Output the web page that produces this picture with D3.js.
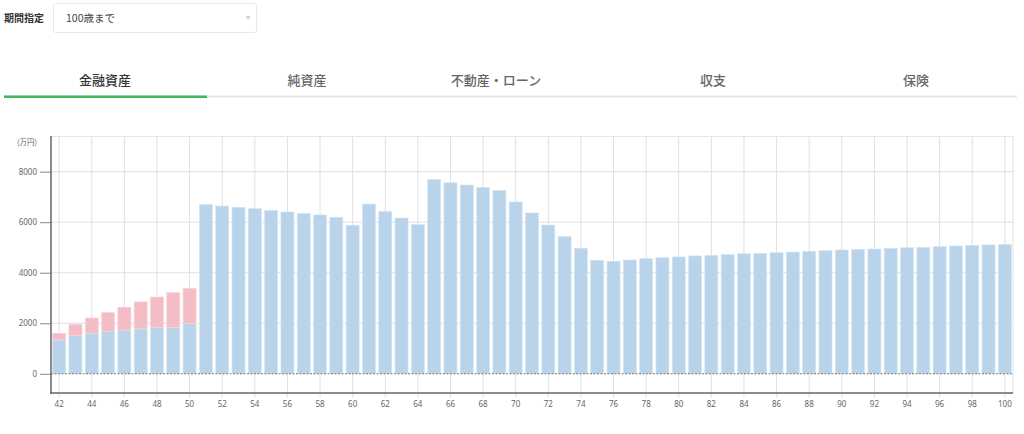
<!DOCTYPE html>
<html>
<head>
<meta charset="utf-8">
<script src="https://cdn.jsdelivr.net/npm/d3@7"></script>
<style>
  body { margin: 0; background: #fff; font-family: "Noto Sans CJK JP", "Noto Sans", sans-serif; }
  svg { display: block; }
</style>
</head>
<body>
<div id="chart"></div>
<script>
// ages on the x axis
const ages = d3.range(42, 101);

// blue series (financial assets, 万円)
const baseValues = [
  1340, 1510, 1610, 1690, 1730, 1780, 1830, 1835, 2000,
  6705, 6640, 6590, 6535, 6470, 6405, 6350, 6285, 6195, 5880,
  6720, 6430, 6165, 5905, 7690, 7560, 7470, 7380, 7260, 6800,
  6365, 5890, 5435, 4970, 4495, 4455, 4505, 4560, 4600, 4625,
  4665, 4690, 4720, 4755, 4770, 4795, 4820, 4850, 4875, 4900,
  4925, 4940, 4965, 4990, 5005, 5030, 5060, 5085, 5100, 5125
];

// pink series stacked on top (only early years)
const extraValues = [
  265, 450, 600, 735, 905, 1065, 1210, 1380, 1385
].concat(d3.range(50).map(() => 0));

const yTicks = [0, 2000, 4000, 6000, 8000];
const tabs = ["金融資産", "純資産", "不動産・ローン", "収支", "保険"];
const tabCenters = [105, 307, 496, 713, 916];

const W = 1024, H = 434;
const svg = d3.select("#chart").append("svg")
  .attr("width", W)
  .attr("height", H);

/* period selector */
svg.append("text")
  .attr("x", 4).attr("y", 22)
  .attr("font-size", 10)
  .attr("font-weight", "bold")
  .attr("fill", "#333")
  .text("期間指定");

svg.append("rect")
  .attr("x", 53.5).attr("y", 3.5)
  .attr("width", 203).attr("height", 29)
  .attr("rx", 2)
  .attr("fill", "#fff")
  .attr("stroke", "#e8e8e8");

svg.append("text")
  .attr("x", 66).attr("y", 22)
  .attr("font-size", 10.5)
  .attr("fill", "#444")
  .text("100歳まで");

svg.append("text")
  .attr("x", 248).attr("y", 19)
  .attr("font-size", 5)
  .attr("text-anchor", "middle")
  .attr("fill", "#d0d0d0")
  .text("▼");

/* tabs */
svg.selectAll(".tab")
  .data(tabs)
  .join("text")
  .attr("class", "tab")
  .attr("x", (d, i) => tabCenters[i])
  .attr("y", 85)
  .attr("text-anchor", "middle")
  .attr("font-size", 13)
  .attr("font-weight", 500)
  .attr("fill", (d, i) => i === 0 ? "#333" : "#666")
  .text(d => d);

svg.append("rect")
  .attr("x", 4).attr("y", 95.5)
  .attr("width", 1013).attr("height", 2)
  .attr("fill", "#e8e8e8");

svg.append("rect")
  .attr("x", 4).attr("y", 95.5)
  .attr("width", 203).attr("height", 2.5)
  .attr("fill", "#3dba5c");

/* chart scales */
const plot = {left: 51, right: 1013, top: 136, bottom: 393};

const xScale = d3.scaleBand()
  .domain(ages)
  .range([plot.left, plot.right])
  .paddingInner(0.2)
  .paddingOuter(0.1);

const yScale = d3.scaleLinear()
  .domain([-760, 9410])
  .range([plot.bottom, plot.top]);

const xc = a => xScale(a) + xScale.bandwidth() / 2;
const evenAges = ages.filter(a => a % 2 === 0);

/* gridlines */
const grid = svg.append("g");

grid.selectAll(".vgrid")
  .data(evenAges)
  .join("line")
  .attr("x1", d => xc(d)).attr("x2", d => xc(d))
  .attr("y1", plot.top).attr("y2", plot.bottom + 4)
  .attr("stroke", "#e0e0e0");

grid.selectAll(".hgrid")
  .data(yTicks.filter(d => d > 0))
  .join("line")
  .attr("x1", plot.left).attr("x2", plot.right)
  .attr("y1", d => yScale(d)).attr("y2", d => yScale(d))
  .attr("stroke", "#e0e0e0");

// top and right border
grid.append("line")
  .attr("x1", plot.left).attr("x2", plot.right)
  .attr("y1", plot.top + 0.5).attr("y2", plot.top + 0.5)
  .attr("stroke", "#e6e6e6");
grid.append("line")
  .attr("x1", plot.right).attr("x2", plot.right)
  .attr("y1", plot.top).attr("y2", plot.bottom)
  .attr("stroke", "#e0e0e0");

/* bars */
const rows = ages.map((a, i) => ({age: a, base: baseValues[i], extra: extraValues[i]}));

svg.append("g").selectAll("rect")
  .data(rows)
  .join("rect")
  .attr("x", d => xScale(d.age))
  .attr("width", xScale.bandwidth())
  .attr("y", d => yScale(d.base))
  .attr("height", d => yScale(0) - yScale(d.base))
  .attr("fill", "#b9d4ea")
  .attr("stroke", "#d6e6f3")
  .attr("stroke-width", 0.6);

svg.append("g").selectAll("rect")
  .data(rows.filter(d => d.extra > 0))
  .join("rect")
  .attr("x", d => xScale(d.age))
  .attr("width", xScale.bandwidth())
  .attr("y", d => yScale(d.base + d.extra))
  .attr("height", d => yScale(d.base) - yScale(d.base + d.extra))
  .attr("fill", "#f4bcc4")
  .attr("stroke", "#f8d6db")
  .attr("stroke-width", 0.6);

/* zero line */
svg.append("line")
  .attr("x1", plot.left).attr("x2", plot.right)
  .attr("y1", yScale(0)).attr("y2", yScale(0))
  .attr("stroke", "#777")
  .attr("stroke-dasharray", "2,1.5");

/* y axis */
const yAxis = d3.axisLeft(yScale)
  .tickValues(yTicks)
  .tickSize(11)
  .tickPadding(3)
  .tickFormat(d3.format("d"));

const yG = svg.append("g")
  .attr("transform", `translate(${plot.left},0)`)
  .call(yAxis);
yG.select(".domain").remove();
yG.selectAll(".tick line").attr("stroke", "#888");
yG.selectAll(".tick text")
  .attr("fill", "#666")
  .attr("font-size", 8)
  .attr("font-family", "'Noto Sans', sans-serif");

svg.append("line")
  .attr("x1", plot.left).attr("x2", plot.left)
  .attr("y1", plot.top).attr("y2", plot.bottom + 1)
  .attr("stroke", "#666")
  .attr("stroke-width", 1.5);

svg.append("text")
  .attr("x", 37).attr("y", 145)
  .attr("text-anchor", "end")
  .attr("font-size", 7.5)
  .attr("fill", "#666")
  .text("(万円)");

/* x axis */
const xAxis = d3.axisBottom(xScale)
  .tickValues(evenAges)
  .tickSize(0)
  .tickPadding(8);

const xG = svg.append("g")
  .attr("transform", `translate(0,${plot.bottom})`)
  .call(xAxis);
xG.select(".domain").remove();
xG.selectAll(".tick text")
  .attr("fill", "#666")
  .attr("font-size", 8)
  .attr("font-family", "'Noto Sans', sans-serif");

svg.append("line")
  .attr("x1", plot.left - 0.75).attr("x2", plot.right)
  .attr("y1", plot.bottom).attr("y2", plot.bottom)
  .attr("stroke", "#666")
  .attr("stroke-width", 1.5);
</script>
</body>
</html>
